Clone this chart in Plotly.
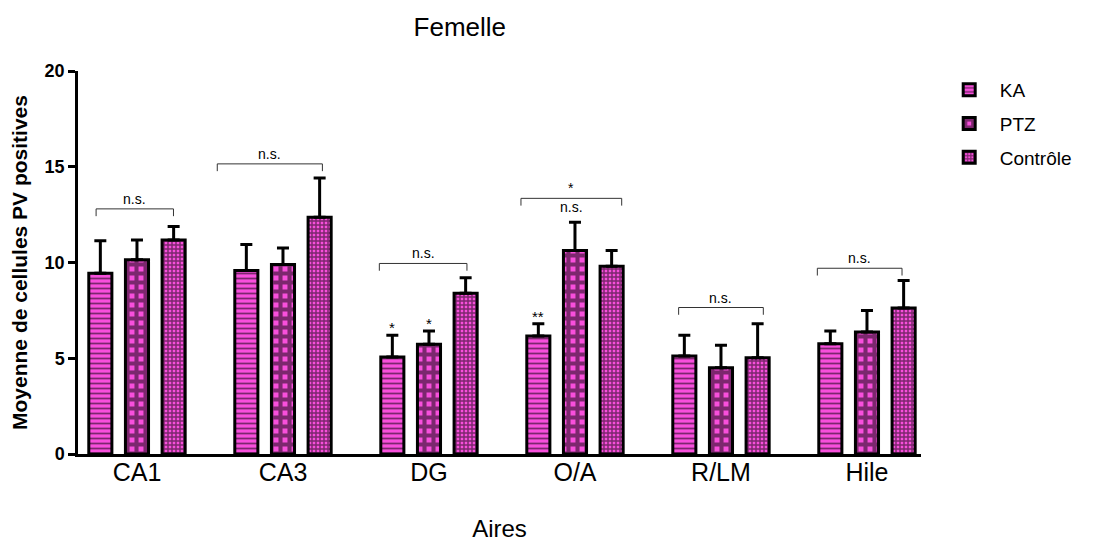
import plotly.graph_objects as go

# Hippocampal areas and mean PV-positive cell counts (females)
areas = ["CA1", "CA3", "DG", "O/A", "R/LM", "Hile"]
ka_mean = [9.44, 9.58, 5.07, 6.16, 5.12, 5.76]
ka_sem = [1.69, 1.36, 1.13, 0.64, 1.08, 0.66]
ptz_mean = [10.14, 9.90, 5.73, 10.63, 4.51, 6.37]
ptz_sem = [1.04, 0.86, 0.69, 1.47, 1.17, 1.13]
ctrl_mean = [11.18, 12.36, 8.40, 9.81, 5.03, 7.62]
ctrl_sem = [0.70, 2.05, 0.80, 0.82, 1.77, 1.44]

# Group comparison brackets: (area index, left offset, right offset, height, label)
brackets = [
    (0, -0.28, 0.25, 12.8, "n.s."),
    (1, -0.45, 0.27, 15.15, "n.s."),
    (2, -0.34, 0.26, 9.95, "n.s."),
    (3, -0.37, 0.32, 13.35, "*"),
    (4, -0.29, 0.29, 7.65, "n.s."),
    (5, -0.34, 0.24, 9.7, "n.s."),
]
# Stars over single bars: (area index, series index, label)
bar_marks = [(2, 0, "*"), (2, 1, "*"), (3, 0, "**")]

PINK = "#F84FDC"
FONT = "Arial, Liberation Sans, sans-serif"

series = [
    ("KA", ka_mean, ka_sem, dict(shape="-", fgcolor="black", bgcolor=PINK, size=5, solidity=0.35)),
    ("PTZ", ptz_mean, ptz_sem, dict(shape="+", fgcolor="black", bgcolor=PINK, size=9, solidity=0.7)),
    ("Contrôle", ctrl_mean, ctrl_sem, dict(shape="+", fgcolor="black", bgcolor=PINK, size=4, solidity=0.6)),
]

fig = go.Figure()
for i, (name, mean, sem, pat) in enumerate(series):
    fig.add_trace(go.Bar(
        name=name, x=areas, y=mean,
        marker=dict(color=PINK, pattern=pat, line=dict(color="black", width=3)),
        error_y=dict(type="data", symmetric=False, array=sem, arrayminus=[0] * len(sem),
                     color="black", thickness=3, width=6),
        legendgroup=name,
    ))

slot = (1 - 0.247) / 3
shapes = []
annotations = []
for idx, lo, hi, h, label in brackets:
    x0, x1 = idx + lo, idx + hi
    shapes.append(dict(type="path", xref="x", yref="y",
                       path=f"M {x0},{h - 0.38} L {x0},{h} L {x1},{h} L {x1},{h - 0.38}",
                       line=dict(color="#333", width=1)))
    annotations.append(dict(x=(x0 + x1) / 2, y=h, xref="x", yref="y", text=label,
                            showarrow=False, yanchor="bottom", yshift=0,
                            font=dict(size=14, family=FONT, color="black")))
# O/A: the n.s. sits under its bracket
annotations.append(dict(x=3 - 0.025, y=13.35, xref="x", yref="y", text="n.s.",
                        showarrow=False, yanchor="top", yshift=1,
                        font=dict(size=14, family=FONT, color="black")))

for idx, s, label in bar_marks:
    name, mean, sem, _ = series[s]
    annotations.append(dict(x=idx + (s - 1) * slot, y=mean[idx] + sem[idx], xref="x", yref="y",
                            text=label, showarrow=False, yanchor="bottom", yshift=-3,
                            font=dict(size=15, family=FONT, color="black")))

fig.update_layout(
    width=1100, height=544,
    margin=dict(l=78, r=179, t=71, b=90),
    paper_bgcolor="white", plot_bgcolor="white",
    barmode="group", bargap=0.247, bargroupgap=0.37,
    font=dict(family=FONT, color="black"),
    title=dict(text="Femelle", x=0.418, xanchor="center", y=0.95, yanchor="middle",
               xref="container", font=dict(size=26, family=FONT)),
    xaxis=dict(range=[-0.404, 5.37], showline=True, linecolor="black", linewidth=3,
               ticks="", tickfont=dict(size=25, family=FONT), automargin=False,
               ticklabelstandoff=-6,
               title=dict(text="Aires", font=dict(size=24, family=FONT), standoff=36)),
    yaxis=dict(range=[0, 20], tickvals=[0, 5, 10, 15, 20], showline=True, linecolor="black",
               linewidth=2.5, ticks="outside", ticklen=7, tickwidth=2.5, tickcolor="black",
               showgrid=False, zeroline=False, automargin=False,
               tickfont=dict(size=18, family=FONT, weight="bold"),
               title=dict(text="Moyenne de cellules PV positives",
                          font=dict(size=21, family=FONT, weight="bold"), standoff=12)),
    legend=dict(x=1.021, y=1.0, xanchor="left", yanchor="top", tracegroupgap=6,
                itemwidth=51, font=dict(size=19, family=FONT), bgcolor="rgba(0,0,0,0)"),
    shapes=shapes, annotations=annotations,
)

fig.write_html("out.html")
